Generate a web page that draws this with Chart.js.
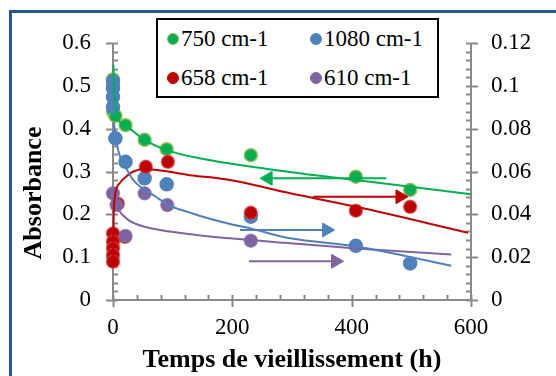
<!DOCTYPE html>
<html>
<head>
<meta charset="utf-8">
<script src="https://cdn.jsdelivr.net/npm/chart.js@4.4.1/dist/chart.umd.min.js"></script>
<style>
    body { margin: 0; background: #ffffff; overflow: hidden; }
    #wrap { position: relative; width: 556px; height: 376px; overflow: hidden; }
    #frame {
        position: absolute; left: 9px; top: 10px; width: 620px; height: 440px;
        border: 3px solid #2c5490; background: #ffffff;
    }
    #chart { position: absolute; left: 0; top: 0; }
    #legend {
        position: absolute; left: 156px; top: 18px; width: 283px; height: 80px;
        box-sizing: border-box; border: 2px solid #000000; background: #ffffff;
        font-family: "Liberation Serif", serif; font-size: 23px; color: #000000;
    }
    .item { position: absolute; height: 24px; line-height: 24px; white-space: nowrap; }
    .dot {
        display: inline-block; width: 12px; height: 12px; border-radius: 50%;
        box-sizing: border-box; vertical-align: middle; margin-right: 2px; margin-top: -3px;
    }
</style>
</head>
<body>
<div id="wrap">
    <div id="frame"></div>
    <canvas id="chart" width="556" height="376"></canvas>
    <div id="legend"></div>
</div>
<script>
// ---- data ----
let seriesNames = ['750 cm-1', '1080 cm-1', '658 cm-1', '610 cm-1'];

// measured points (h, absorbance)
let hours750 = [0, 0, 0, 4, 21, 53, 90, 231, 407, 498];
let abs750 = [0.515, 0.50, 0.44, 0.43, 0.408, 0.374, 0.352, 0.338, 0.288, 0.257];

let hours1080 = [0, 0, 0, 0, 4, 21, 53, 90, 231, 407, 498];
let abs1080 = [0.102, 0.0988, 0.0949, 0.0902, 0.0755, 0.0645, 0.0568, 0.054, 0.0389, 0.0253, 0.0171];

let hours658 = [0, 0, 0, 0, 0, 8, 20, 55, 92, 231, 407, 498];
let abs658 = [0.0311, 0.0272, 0.0241, 0.021, 0.0179, 0.045, 0.0295, 0.0622, 0.0645, 0.0407, 0.0417, 0.0435];

let hours610 = [0, 6, 21, 53, 91, 231];
let abs610 = [0.0498, 0.0443, 0.0299, 0.0498, 0.0443, 0.0277];

// trend curves
let fitHours750 = [0.5, 2, 4, 6, 20, 53, 90, 145, 296, 407, 600];
let fit750 = [0.55, 0.49, 0.455, 0.432, 0.409, 0.374, 0.35, 0.331, 0.299, 0.28, 0.247];

let fitHours1080 = [1.5, 5, 14, 23, 34, 73, 95, 129, 146, 196, 229, 297, 408, 567];
let fit1080 = [0.083, 0.075, 0.065, 0.061, 0.056, 0.048, 0.044, 0.0408, 0.0392, 0.0355, 0.0335, 0.0288, 0.025, 0.016];

let fitHours658 = [0.2, 0.5, 1, 3, 11, 25, 34, 53, 129, 196, 297, 408, 595];
let fit658 = [0.017, 0.025, 0.037, 0.048, 0.0545, 0.0583, 0.06, 0.0612, 0.0583, 0.056, 0.0498, 0.0435, 0.0314];

let fitHours610 = [3, 8, 26, 53, 120, 196, 297, 408, 567];
let fit610 = [0.0455, 0.0425, 0.0373, 0.0342, 0.0311, 0.0288, 0.0265, 0.0241, 0.0213];

// arrows: [tail, head] in hours, at one level
let arrowHours750 = [458, 260];
let arrowLevel750 = 0.284;
let arrowHours658 = [335, 481];
let arrowLevel658 = 0.0482;
let arrowHours1080 = [213, 358];
let arrowLevel1080 = 0.0327;
let arrowHours610 = [228, 373];
let arrowLevel610 = 0.0181;

let xTicks = [0, 600, 200];      // min, max, step
let leftTicks = [0, 0.6, 0.1];
let rightTicks = [0, 0.12, 0.02];

// ---- styles ----
let colors = ['#00b050', '#4f81bd', '#c00000', '#8064a2'];
let axisColor = '#8a8a8a';
let serif = '"Liberation Serif", serif';

function pts(xs, ys) {
    return xs.map(function (h, i) { return { x: h, y: ys[i] }; });
}
function level(xs, v) {
    return xs.map(function (h) { return { x: h, y: v }; });
}

function pointSet(label, xs, ys, color, border, axis, order) {
    return {
        label: label,
        data: pts(xs, ys),
        yAxisID: axis,
        showLine: false,
        pointRadius: 6.5,
        pointBackgroundColor: color,
        pointBorderColor: border,
        pointBorderWidth: 1.5,
        clip: false,
        order: order
    };
}

function fitSet(xs, ys, color, axis) {
    return {
        data: pts(xs, ys),
        yAxisID: axis,
        showLine: true,
        borderColor: color,
        borderWidth: 2,
        pointRadius: 0,
        cubicInterpolationMode: 'monotone',
        clip: false,
        order: 1
    };
}

function arrowSet(xs, v, color, axis, rot) {
    return {
        data: level(xs, v),
        yAxisID: axis,
        showLine: true,
        borderColor: color,
        borderWidth: 2,
        pointStyle: 'triangle',
        pointRadius: [0, 8],
        pointRotation: [0, rot],
        pointBackgroundColor: color,
        pointBorderColor: color,
        pointBorderWidth: 1,
        order: 0
    };
}

//=======================================================//
// axes drawn the Excel way: minor ticks inside, major ticks crossing
const excelAxes = {
    id: 'excelAxes',
    beforeDatasetsDraw(chart) {
        let ctx = chart.ctx;
        let a = chart.chartArea;
        let sx = chart.scales.x, sy = chart.scales.y, sy1 = chart.scales.y1;
        ctx.save();
        ctx.strokeStyle = axisColor;
        ctx.lineWidth = 2;
        ctx.beginPath();
        ctx.moveTo(a.left, a.top); ctx.lineTo(a.left, a.bottom);
        ctx.moveTo(a.right, a.top); ctx.lineTo(a.right, a.bottom);
        ctx.moveTo(a.left, a.bottom); ctx.lineTo(a.right, a.bottom);
        for (let i = 0; i <= 30; i++) {
            let py = Math.round(sy.getPixelForValue(i * 0.02)) + 0.5;
            ctx.moveTo(i % 5 === 0 ? a.left - 7 : a.left, py);
            ctx.lineTo(a.left + 5, py);
        }
        for (let i = 0; i <= 30; i++) {
            let py = Math.round(sy1.getPixelForValue(i * 0.004)) + 0.5;
            ctx.moveTo(a.right - 5, py);
            ctx.lineTo(i % 5 === 0 ? a.right + 7 : a.right, py);
        }
        for (let i = 0; i <= 15; i++) {
            let px = Math.round(sx.getPixelForValue(i * 40)) + 0.5;
            ctx.moveTo(px, a.bottom - 5);
            ctx.lineTo(px, i % 5 === 0 ? a.bottom + 7 : a.bottom);
        }
        ctx.stroke();

        // axis titles
        ctx.fillStyle = '#000000';
        ctx.font = 'bold 26px ' + serif;
        ctx.textAlign = 'center';
        ctx.textBaseline = 'middle';
        ctx.fillText('Temps de vieillissement (h)', (a.left + a.right) / 2, a.bottom + 60);
        ctx.translate(34, a.top + 150);
        ctx.rotate(-Math.PI / 2);
        ctx.fillText('Absorbance', 0, 0);
        ctx.restore();
    }
};

function tickLabel(v) {
    return String(+v.toFixed(3));
}

let ctx = document.getElementById('chart').getContext('2d');

let chart = new Chart(ctx, {
    type: 'scatter',
    data: {
        datasets: [
            arrowSet(arrowHours750, arrowLevel750, colors[0], 'y', -90),
            arrowSet(arrowHours1080, arrowLevel1080, colors[1], 'y1', 90),
            arrowSet(arrowHours658, arrowLevel658, colors[2], 'y1', 90),
            arrowSet(arrowHours610, arrowLevel610, colors[3], 'y1', 90),
            fitSet(fitHours750, fit750, colors[0], 'y'),
            fitSet(fitHours1080, fit1080, colors[1], 'y1'),
            fitSet(fitHours658, fit658, colors[2], 'y1'),
            fitSet(fitHours610, fit610, colors[3], 'y1'),
            pointSet(seriesNames[3], hours610, abs610, colors[3], 'rgba(128,100,162,0.6)', 'y1', 2),
            pointSet(seriesNames[2], hours658, abs658, colors[2], 'rgba(205,70,70,0.7)', 'y1', 3),
            pointSet(seriesNames[1], hours1080, abs1080, colors[1], colors[1], 'y1', 4),
            pointSet(seriesNames[0], hours750, abs750, colors[0], '#9bbb59', 'y', 5)
        ]
    },
    options: {
        responsive: false,
        maintainAspectRatio: false,
        animation: false,
        layout: { padding: { top: 43, left: 0, right: 0, bottom: 0 } },
        plugins: {
            legend: { display: false },
            tooltip: { enabled: false }
        },
        scales: {
            x: {
                type: 'linear',
                min: xTicks[0],
                max: xTicks[1],
                ticks: {
                    stepSize: xTicks[2],
                    color: '#000000',
                    padding: 14,
                    font: { family: serif, size: 23 }
                },
                grid: { display: false, drawTicks: false },
                border: { display: false },
                afterFit: function (s) { s.height = 76; }
            },
            y: {
                position: 'left',
                min: leftTicks[0],
                max: leftTicks[1],
                ticks: {
                    stepSize: leftTicks[2],
                    color: '#000000',
                    padding: 22,
                    font: { family: serif, size: 23 },
                    callback: tickLabel
                },
                grid: { display: false, drawTicks: false },
                border: { display: false },
                afterFit: function (s) { s.width = 113; }
            },
            y1: {
                position: 'right',
                min: rightTicks[0],
                max: rightTicks[1],
                ticks: {
                    stepSize: rightTicks[2],
                    color: '#000000',
                    padding: 20,
                    font: { family: serif, size: 23 },
                    callback: tickLabel
                },
                grid: { display: false, drawTicks: false },
                border: { display: false },
                afterFit: function (s) { s.width = 85; }
            }
        }
    },
    plugins: [excelAxes]
});

// legend box, two columns
let legendEl = document.getElementById('legend');
let legendBorders = ['#9bbb59', colors[1], colors[2], colors[3]];
seriesNames.forEach(function (name, i) {
    let item = document.createElement('div');
    item.className = 'item';
    item.style.left = (i % 2 === 0 ? 9 : 152) + 'px';
    item.style.top = (i < 2 ? 7 : 46) + 'px';
    let dot = document.createElement('span');
    dot.className = 'dot';
    dot.style.background = colors[i];
    dot.style.border = '1.5px solid ' + legendBorders[i];
    item.appendChild(dot);
    item.appendChild(document.createTextNode(name));
    legendEl.appendChild(item);
});
</script>
</body>
</html>
